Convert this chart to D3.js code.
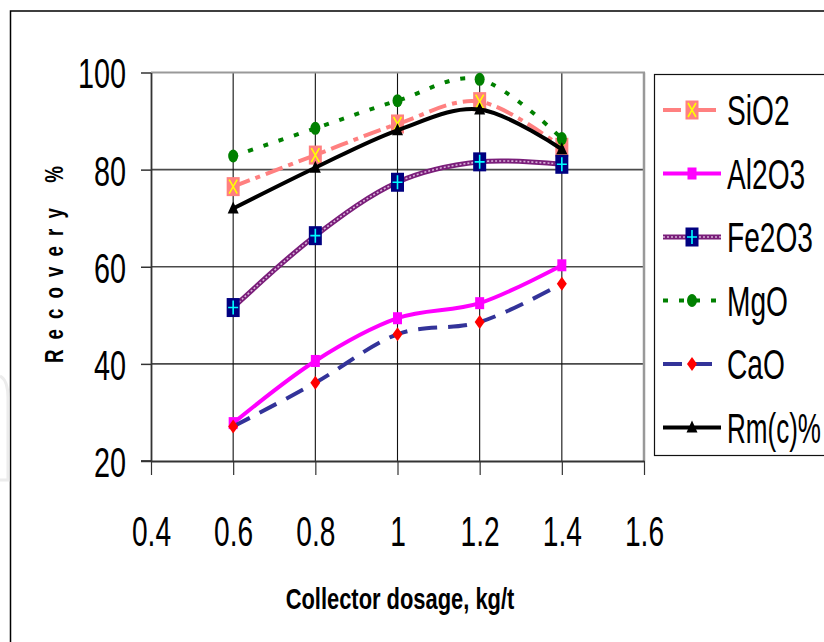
<!DOCTYPE html>
<html><head><meta charset="utf-8">
<script src="https://cdn.jsdelivr.net/npm/d3@7"></script>
<style>
html,body{margin:0;padding:0;background:#fff;}
text{font-family:"Liberation Sans",Arial,sans-serif;}
</style></head>
<body>
<svg id="chart" width="824" height="642"></svg>
<script>
// ---- data ----
const dosage = [0.6, 0.8, 1.0, 1.2, 1.4];
const xTicks = [0.4, 0.6, 0.8, 1, 1.2, 1.4, 1.6];
const yTicks = [20, 40, 60, 80, 100];
const seriesNames = ["SiO2", "Al2O3", "Fe2O3", "MgO", "CaO", "Rm(c)%"];
const SiO2  = [76.5, 83.0, 89.4, 94.0, 84.6];
const Al2O3 = [27.8, 40.6, 49.4, 52.5, 60.3];
const Fe2O3 = [51.6, 66.4, 77.4, 81.6, 81.1];
const MgO   = [82.8, 88.5, 94.2, 98.6, 86.4];
const CaO   = [27.1, 36.1, 46.1, 48.6, 56.5];
const Rmc   = [72.0, 80.4, 88.1, 92.4, 84.2];
const xTitle = "Collector dosage, kg/t";
const yTitle = "Recovery %";

const values = [SiO2, Al2O3, Fe2O3, MgO, CaO, Rmc];

// ---- styles ----
const styles = [
  {color:"#FF8080", width:4, dash:"18,6,5,6", marker:"sq_x"},
  {color:"#FF00FF", width:4, dash:null, marker:"sq"},
  {color:"#7A1E7A", width:5, dash:null, marker:"sq_plus", texture:true},
  {color:"#008000", width:4, dash:"5,11", marker:"circle"},
  {color:"#333399", width:4, dash:"19,11", marker:"diamond"},
  {color:"#000000", width:4, dash:null, marker:"triangle"}
];

const svg = d3.select("#chart");
const SX = 0.67;

// outer frame
svg.append("rect").attr("x",10.5).attr("y",11).attr("width",900).attr("height",700)
  .attr("fill","none").attr("stroke","#000").attr("stroke-width",1.5);
// faint page artifact at left
svg.append("path").attr("d","M0,376 Q8,380 8,398 L8,480 L0,480")
  .attr("fill","none").attr("stroke","#ececec").attr("stroke-width",3);

const x = d3.scaleLinear().domain([0.4,1.6]).range([151,644]);
const y = d3.scaleLinear().domain([20,100]).range([461,72.5]);

// gridlines horizontal
svg.append("g").selectAll("line").data([40,60,80]).join("line")
  .attr("x1",151).attr("x2",644).attr("y1",d=>y(d)).attr("y2",d=>y(d))
  .attr("stroke","#4a4a4a").attr("stroke-width",1.6);
// vertical gridlines
svg.append("g").selectAll("line").data(dosage).join("line")
  .attr("x1",d=>x(d)).attr("x2",d=>x(d)).attr("y1",y(100)).attr("y2",y(20))
  .attr("stroke","#111").attr("stroke-width",1.1);
// plot border top/right
svg.append("line").attr("x1",151).attr("x2",645).attr("y1",y(100)).attr("y2",y(100))
  .attr("stroke","#999").attr("stroke-width",2.2);
svg.append("line").attr("x1",644).attr("x2",644).attr("y1",y(100)).attr("y2",y(20))
  .attr("stroke","#999").attr("stroke-width",2.5);

// axes
const yAxis = svg.append("g").attr("transform","translate(151,0)")
  .call(d3.axisLeft(y).tickValues(yTicks).tickSizeInner(10).tickSizeOuter(0).tickFormat(d3.format("d")));
yAxis.select(".domain").attr("stroke","#333").attr("stroke-width",1.8);
yAxis.selectAll(".tick line").attr("stroke","#333").attr("stroke-width",1.5);
yAxis.selectAll(".tick text").attr("x",0).attr("dy","0.36em")
  .attr("transform",`translate(-25,0) scale(${SX},1)`)
  .attr("font-size",43).attr("font-family","Liberation Sans, Arial, sans-serif").attr("fill","#000");

const xAxis = svg.append("g").attr("transform",`translate(0,${y(20)})`)
  .call(d3.axisBottom(x).tickValues(xTicks).tickSizeInner(14).tickSizeOuter(0).tickFormat(d=>String(d)));
xAxis.select(".domain").attr("stroke","#333").attr("stroke-width",1.8);
xAxis.selectAll(".tick line").attr("stroke","#333").attr("stroke-width",1.2);
xAxis.selectAll(".tick text").attr("y",0).attr("dy",0)
  .attr("transform",`translate(0,85) scale(${SX},1)`)
  .attr("font-size",42).attr("font-family","Liberation Sans, Arial, sans-serif").attr("fill","#000");
// extend 20 axis to the left like the tick
svg.append("line").attr("x1",141).attr("x2",151).attr("y1",y(20)).attr("y2",y(20))
  .attr("stroke","#333").attr("stroke-width",1.8);

// titles
svg.append("text").attr("transform","translate(400,609) scale(0.73,1)")
  .attr("text-anchor","middle").attr("font-size",30).attr("font-weight","bold").text(xTitle);
svg.append("text").attr("transform","translate(63,363) rotate(-90) scale(0.72,1)")
  .attr("text-anchor","start").attr("font-size",26).attr("font-weight","bold")
  .attr("letter-spacing",14).text(yTitle);

// marker drawer
function drawMarker(g, type, cx, cy){
  const m = g.append("g").attr("transform",`translate(${cx},${cy})`);
  if(type==="sq_x"){
    m.append("rect").attr("x",-6.5).attr("y",-9.5).attr("width",13).attr("height",19).attr("fill","#FF8080");
    m.append("path").attr("d","M-4,-7 L4,7 M4,-7 L-4,7").attr("stroke","#FFFF00").attr("stroke-width",1.6).attr("fill","none");
  } else if(type==="sq"){
    m.append("rect").attr("x",-4.5).attr("y",-6).attr("width",9).attr("height",12).attr("fill","#FF00FF");
  } else if(type==="sq_plus"){
    m.append("rect").attr("x",-6.5).attr("y",-9.5).attr("width",13).attr("height",19).attr("fill","#000080");
    m.append("path").attr("d","M-5,0 L5,0 M0,-7 L0,7").attr("stroke","#00FFFF").attr("stroke-width",1.6).attr("fill","none");
  } else if(type==="circle"){
    m.append("ellipse").attr("rx",5).attr("ry",6.5).attr("fill","#008000");
  } else if(type==="diamond"){
    m.append("path").attr("d","M0,-7 L5,0 L0,7 L-5,0 Z").attr("fill","#FF0000");
  } else if(type==="triangle"){
    m.append("path").attr("d","M0,-7 L5.5,5 L-5.5,5 Z").attr("fill","#000");
  }
}

const line = d3.line().x(d=>x(d[0])).y(d=>y(d[1])).curve(d3.curveCatmullRom.alpha(0));

function styledPath(g, dAttr, st){
  const p = g.append("path").attr("d",dAttr).attr("fill","none")
    .attr("stroke",st.color).attr("stroke-width",st.width)
    .attr("stroke-linejoin","round");
  if(st.dash) p.attr("stroke-dasharray",st.dash);
  if(st.texture){
    g.append("path").attr("d",dAttr).attr("fill","none")
      .attr("stroke","#D8B0D8").attr("stroke-width",1.6).attr("stroke-dasharray","2,2");
  }
}

// series
values.forEach((vals,i)=>{
  const st = styles[i];
  const g = svg.append("g");
  const pts = dosage.map((d,j)=>[d, vals[j]]);
  styledPath(g, line(pts), st);
  pts.forEach(p=>drawMarker(g, st.marker, x(p[0]), y(p[1])));
});

// legend
const leg = svg.append("g");
leg.append("rect").attr("x",654.5).attr("y",74.5).attr("width",200).attr("height",381)
  .attr("fill","#fff").attr("stroke","#111").attr("stroke-width",1.2);
const legY = d3.scalePoint().domain(seriesNames).range([110,427.5]);
seriesNames.forEach((name,i)=>{
  const st = styles[i];
  const cy = legY(name);
  const g = leg.append("g");
  styledPath(g, `M663,${cy} L721,${cy}`, st);
  drawMarker(g, st.marker, 692, cy);
  const sx = name.length > 5 ? 0.62 : SX;
  g.append("text").attr("transform",`translate(727,${cy+15}) scale(${sx},1)`)
    .attr("font-size",42).attr("fill","#000").text(name);
});
</script>
</body></html>
